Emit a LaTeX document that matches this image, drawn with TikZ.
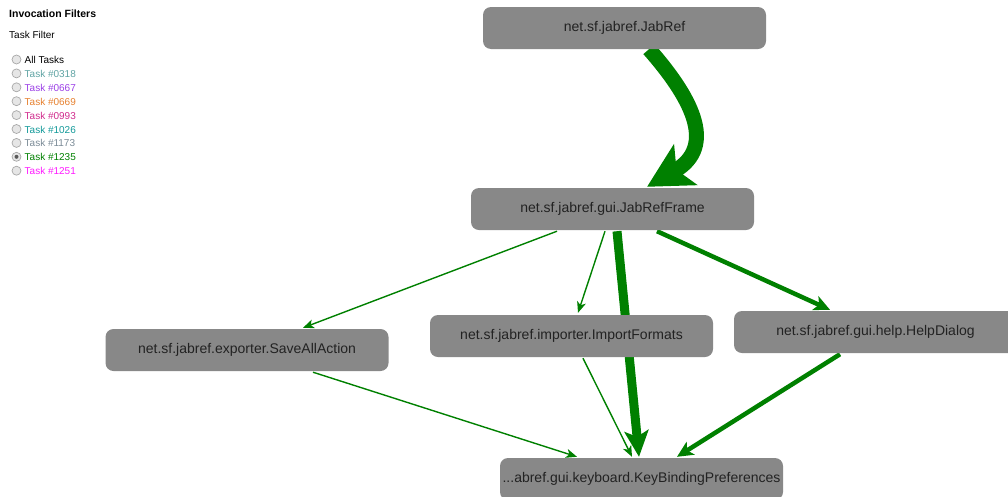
\documentclass[tikz,border=0pt]{standalone}
\usepackage{fontspec}
\setmainfont{Liberation Sans}
\usetikzlibrary{arrows.meta,calc,backgrounds}
\definecolor{edgegreen}{HTML}{008000}
\definecolor{boxgray}{HTML}{888888}
\definecolor{textdark}{HTML}{222222}
\definecolor{radiofill}{HTML}{E6E6E6}
\definecolor{radiodraw}{HTML}{A8A8A8}
\definecolor{tA}{HTML}{5FA3A3}
\definecolor{tB}{HTML}{9B3FE6}
\definecolor{tC}{HTML}{E6802E}
\definecolor{tD}{HTML}{D02A8C}
\definecolor{tE}{HTML}{129999}
\definecolor{tF}{HTML}{7A8A96}
\definecolor{tG}{HTML}{008000}
\definecolor{tH}{HTML}{FF1AFF}
\tikzset{
  cls/.style={rectangle, rounded corners=8pt, fill=boxgray, minimum width=283pt,
    minimum height=42pt, inner sep=0pt, text=textdark, font=\fontsize{14}{16}\selectfont},
  thinedge/.style={draw=edgegreen, line width=1.4pt, -{Stealth[length=11pt,width=9pt,inset=3pt]}},
  midedge/.style={draw=edgegreen, line width=4.5pt, -{Stealth[length=16pt,width=15pt,inset=4pt]}},
  thickedge/.style={draw=edgegreen, line width=9pt, -{Stealth[length=26pt,width=24pt,inset=6pt]}},
  hugeedge/.style={draw=edgegreen, line width=15pt, -{Stealth[length=44pt,width=46pt,inset=10pt]}},
  paneltext/.style={anchor=west, inner sep=0pt, font=\fontsize{10}{12}\selectfont},
  radio/.style={circle, draw=radiodraw, fill=radiofill, line width=0.7pt, minimum size=9pt, inner sep=0pt},
}
\begin{document}
\begin{tikzpicture}[x=1pt,y=-1pt]
\useasboundingbox (0,0) rectangle (1008,496);
\clip (0,0) rectangle (1008,496);

% left panel
\node[anchor=west, inner sep=0pt, font=\fontsize{10.5}{12}\selectfont\bfseries, text=black] (ttl) at (9,13.5) {Invocation Filters};
\node[paneltext, text=black] (tf) at (9,35) {Task Filter};
\foreach \i/\lab/\col in {0/All Tasks/black, 1/Task \#0318/tA, 2/Task \#0667/tB, 3/Task \#0669/tC, 4/Task \#0993/tD, 5/Task \#1026/tE, 6/Task \#1173/tF, 7/Task \#1235/tG, 8/Task \#1251/tH}{
  \node[radio] (r\i) at (16.5,{59.5+13.9*\i}) {};
  \node[paneltext, text=\col] (l\i) at (24.5,{60+13.9*\i}) {\lab};
}
\fill[black!65] (r7) circle (2pt);

% nodes
\node[cls] (jr) at (624.5,28) {net.sf.jabref.JabRef};
\node[cls] (fr) at (612.5,209) {net.sf.jabref.gui.JabRefFrame};
\node[cls] (sa) at (247,350) {net.sf.jabref.exporter.SaveAllAction};
\node[cls] (im) at (571.5,336) {net.sf.jabref.importer.ImportFormats};
\node[cls] (hd) at (875.5,332) {net.sf.jabref.gui.help.HelpDialog};
\node[cls] (kb) at (641.5,479) {...abref.gui.keyboard.KeyBindingPreferences};

% edges (behind the nodes)
\begin{pgfonlayer}{background}
\draw[hugeedge] ($(jr.south)+(24.5,0)$) .. controls ($(jr.south)+(65,46)$) and ($(fr.north)+(106,-42)$) .. ($(fr.north)+(34.5,-1)$);
\draw[thinedge] ($(fr.south)+(-55.5,1)$) -- ($(sa.north)+(56,-1)$);
\draw[thinedge] ($(fr.south)+(-7.5,1)$) -- ($(im.north)+(6.5,-2)$);
\draw[thickedge] ($(fr.south)+(4.5,1)$) -- ($(kb.north)+(-2.5,-1)$);
\draw[midedge] ($(fr.south)+(44.5,1)$) -- ($(hd.north)+(-45.5,-1)$);
\draw[thinedge] ($(sa.south)+(66,1)$) -- ($(kb.north)+(-64.5,-1)$);
\draw[thinedge] ($(im.south)+(11.5,1)$) -- ($(kb.north)+(-9.5,-1)$);
\draw[midedge] ($(hd.south)+(-35.5,1)$) -- ($(kb.north)+(35.5,-1)$);
\end{pgfonlayer}
\end{tikzpicture}
\end{document}
